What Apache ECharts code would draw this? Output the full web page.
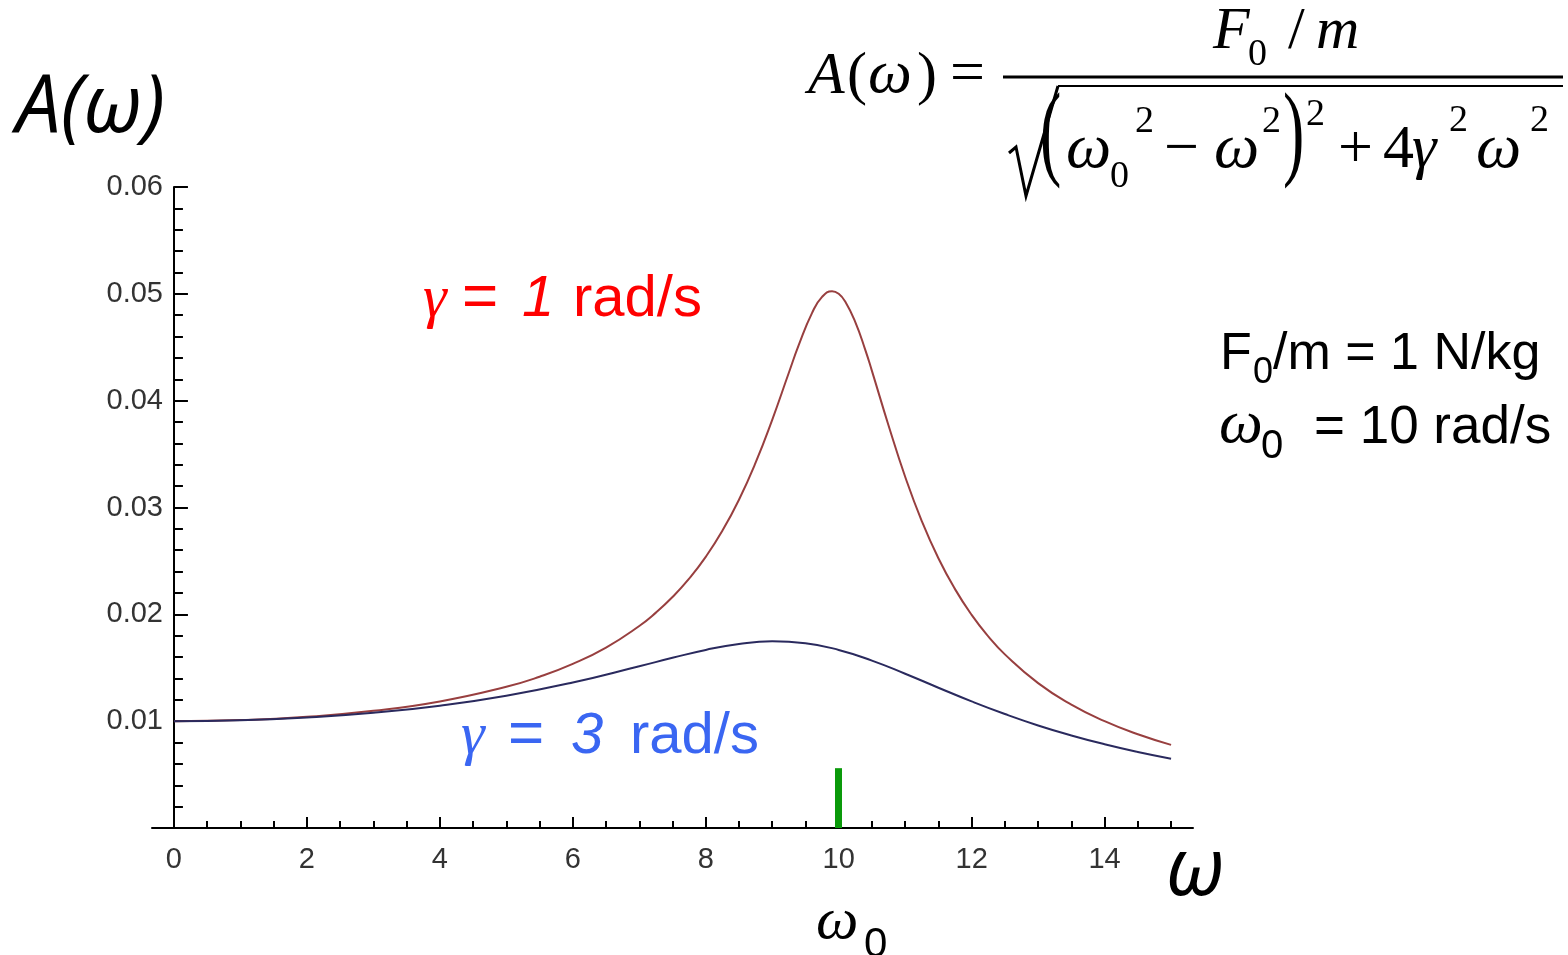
<!doctype html>
<html lang="en">
<head>
<meta charset="UTF-8"/>
<title>A(ω) resonance curves</title>
<script src="https://cdn.jsdelivr.net/npm/echarts@6/dist/echarts.min.js"></script>
<style>
html, body { margin: 0; background: #fff; }
#main { width: 1568px; height: 955px; }
</style>
</head>
<body>
<div id="main"></div>
<script type="text/javascript">
// values
var omegaRed = [0, 1, 2, 3, 4, 5, 5.5, 6, 6.5, 7, 7.25, 7.5, 7.75, 8, 8.25, 8.5, 8.75, 9, 9.25, 9.4, 9.6, 9.75, 9.9, 10,
	10.1, 10.25, 10.4, 10.5, 10.75, 11, 11.25, 11.5, 11.75, 12, 12.25, 12.5, 13, 13.5, 14, 14.5, 15];
var ampRed = [0.0100, 0.01010, 0.01041, 0.01097, 0.01185, 0.01322, 0.01416, 0.01536, 0.01689, 0.01891,
	0.02016, 0.02162, 0.02334, 0.02538, 0.02782, 0.03073, 0.03419, 0.03821, 0.04261, 0.04522,
	0.04822, 0.04971, 0.05025, 0.05000, 0.04926, 0.04736, 0.04476, 0.04279, 0.03768, 0.03288,
	0.02873, 0.02525, 0.02236, 0.01995, 0.01794, 0.01625, 0.01356, 0.01155, 0.01000, 0.00877, 0.00778];
var omegaBlue = [0, 1, 2, 3, 4, 5, 6, 7, 7.5, 8, 8.5, 9, 9.5, 10, 10.5, 11, 11.5, 12, 12.5, 13, 13.5, 14, 14.5, 15];
var ampBlue = [0.01000, 0.01008, 0.01034, 0.01078, 0.01145, 0.01238, 0.01362, 0.01514, 0.01593, 0.01667,
	0.01722, 0.01747, 0.01729, 0.01667, 0.01567, 0.01444, 0.01313, 0.01185, 0.01067, 0.00960,
	0.00866, 0.00784, 0.00712, 0.00649];
var xMajorTicks = [0, 2, 4, 6, 8, 10, 12, 14];
var xMinorTicks = [0.5, 1, 1.5, 2.5, 3, 3.5, 4.5, 5, 5.5, 6.5, 7, 7.5, 8.5, 9, 9.5, 10.5, 11, 11.5, 12.5, 13, 13.5, 14.5, 15];
var omega0 = 10;
var markerTop = 0.0056;

function zip(xs, ys) {
	var out = [];
	for (var i = 0; i < xs.length; i++) out.push([xs[i], ys[i]]);
	return out;
}

// text helper: x = left edge, base = baseline y
function txt(x, base, s, size, fam, italic, color) {
	var k = fam === 'serif' ? 0.3375 : (fam === 'open' ? 0.388 : 0.3465);
	var family = fam === 'serif' ? 'Liberation Serif' : (fam === 'open' ? 'Open Sans' : 'Liberation Sans');
	return {
		type: 'text', x: x, y: base - k * size, silent: true,
		style: {
			text: s, fill: color || '#000', fontSize: size, fontFamily: family,
			fontStyle: italic ? 'italic' : 'normal', align: 'left', verticalAlign: 'middle'
		}
	};
}
// tall thin bracket: centre y given
function paren(x, cy, s) {
	return {
		type: 'text', x: x, y: cy, silent: true, scaleY: 1.65, originX: 0, originY: 0,
		style: { text: s, fill: '#000', fontSize: 64, fontFamily: 'Liberation Serif', align: 'left', verticalAlign: 'middle' }
	};
}

var red = '#ff0000';
var blue = '#3a66f2';
var tickFont = { fontFamily: 'Liberation Sans', fontSize: 29, color: '#333' };

var myChart = echarts.init(document.getElementById('main'));
var option = {
	animation: false,
	backgroundColor: '#fff',
	grid: { left: 152, right: 375, top: 187, bottom: 127 },
	xAxis: [{
		type: 'value', min: -0.33, max: 15.33,
		axisLine: { onZero: true, lineStyle: { color: '#000', width: 2 } },
		axisTick: { inside: true, length: 11, customValues: xMajorTicks, lineStyle: { color: '#000', width: 2 } },
		axisLabel: Object.assign({ customValues: xMajorTicks, margin: 17 }, tickFont),
		splitLine: { show: false }
	}, {
		type: 'value', min: -0.33, max: 15.33, position: 'bottom',
		axisLine: { show: false },
		axisTick: { inside: true, length: 7, customValues: xMinorTicks, lineStyle: { color: '#000', width: 2 } },
		axisLabel: { show: false },
		splitLine: { show: false }
	}],
	yAxis: {
		type: 'value', min: 0, max: 0.06, interval: 0.01,
		axisLine: { show: true, onZero: true, onZeroAxisIndex: 0, lineStyle: { color: '#000', width: 2 } },
		axisTick: { show: true, inside: true, length: 14, lineStyle: { color: '#000', width: 2 } },
		minorTick: { show: true, splitNumber: 5, length: 9, lineStyle: { color: '#000', width: 2 } },
		axisLabel: Object.assign({
			margin: -11,
			formatter: function (v) { return v === 0 ? '' : v.toFixed(2); }
		}, tickFont),
		splitLine: { show: false },
		minorSplitLine: { show: false }
	},
	series: [{
		name: 'gamma1', type: 'line', smooth: 0.5, showSymbol: false, silent: true,
		data: zip(omegaRed, ampRed),
		lineStyle: { color: '#983f3f', width: 2 }
	}, {
		name: 'gamma3', type: 'line', smooth: 0.5, showSymbol: false, silent: true,
		data: zip(omegaBlue, ampBlue),
		lineStyle: { color: '#2a2a5e', width: 2 },
		markLine: {
			silent: true, symbol: 'none', label: { show: false },
			lineStyle: { color: '#0a9a0a', width: 7, type: 'solid' },
			data: [[{ coord: [omega0, 0] }, { coord: [omega0, markerTop] }]]
		}
	}],
	graphic: [
		txt(16, 140, 'A(ω)', 80, 'open', true),
		txt(1166, 903, 'ω', 80, 'open', true),
		txt(816, 942, 'ω', 60, 'serif', true),
		txt(864, 960, '0', 42, 'sans'),

		// formula
		txt(808, 97, 'A', 60, 'serif', true),
		txt(847, 97, '(', 60, 'serif'),
		txt(868, 97, 'ω', 62, 'serif', true),
		txt(917, 97, ')', 60, 'serif'),
		txt(950, 97, '=', 62, 'serif'),
		txt(1213, 52, 'F', 60, 'serif', true),
		txt(1248, 68, '0', 38, 'serif'),
		txt(1288, 52, '/', 60, 'serif'),
		txt(1316, 52, 'm', 60, 'serif', true),
		{ type: 'line', silent: true, shape: { x1: 1003, y1: 77, x2: 1563, y2: 77 }, style: { stroke: '#000', lineWidth: 3 } },
		{ type: 'line', silent: true, shape: { x1: 1058, y1: 86, x2: 1563, y2: 86 }, style: { stroke: '#000', lineWidth: 2 } },
		{ type: 'polyline', silent: true, shape: { points: [[1009, 153], [1016, 147], [1026, 196], [1058, 86]] }, style: { stroke: '#000', lineWidth: 3, fill: null } },
		paren(1040, 138, '('),
		txt(1066, 172, 'ω', 64, 'serif', true),
		txt(1110, 190, '0', 38, 'serif'),
		txt(1135, 135, '2', 38, 'serif'),
		txt(1164, 172, '−', 62, 'serif'),
		txt(1214, 172, 'ω', 64, 'serif', true),
		txt(1262, 135, '2', 38, 'serif'),
		paren(1283, 138, ')'),
		txt(1306, 128, '2', 38, 'serif'),
		txt(1338, 172, '+', 62, 'serif'),
		txt(1383, 172, '4', 62, 'serif'),
		txt(1412, 172, 'γ', 62, 'serif', true),
		txt(1449, 134, '2', 38, 'serif'),
		txt(1476, 172, 'ω', 64, 'serif', true),
		txt(1530, 134, '2', 38, 'serif'),

		// parameters
		txt(1220, 373, 'F', 52, 'sans'),
		txt(1253, 386, '0', 36, 'sans'),
		txt(1273, 373, '/m = 1 N/kg', 52, 'sans'),
		txt(1219, 447, 'ω', 62, 'serif', true),
		txt(1261, 461, '0', 40, 'sans'),
		txt(1314, 447, '= 10 rad/s', 53, 'sans'),

		// curve labels
		txt(423, 320, 'γ', 60, 'serif', true, red),
		txt(462, 320, '=', 62, 'sans', false, red),
		txt(522, 320, '1', 58, 'sans', true, red),
		txt(573, 320, 'rad/s', 58, 'sans', false, red),
		txt(461, 757, 'γ', 60, 'serif', true, blue),
		txt(508, 757, '=', 62, 'sans', false, blue),
		txt(571, 757, '3', 58, 'sans', true, blue),
		txt(630, 757, 'rad/s', 58, 'sans', false, blue)
	]
};
myChart.setOption(option);
</script>
</body>
</html>
